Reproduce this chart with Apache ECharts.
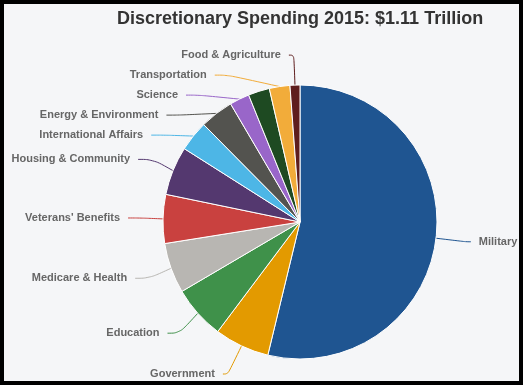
<!DOCTYPE html>
<html>
<head>
<meta charset="utf-8">
<script src="https://cdn.jsdelivr.net/npm/echarts@6/dist/echarts.min.js"></script>
<style>
  html, body { margin: 0; padding: 0; background: #000; width: 523px; height: 385px; overflow: hidden; }
  #chart { position: absolute; left: 4px; top: 4px; width: 515px; height: 377px; background: #f5f6f8; }
</style>
</head>
<body>
<div id="chart"></div>
<script>
const titleText = 'Discretionary Spending 2015: $1.11 Trillion';
const categories = ['Military', 'Government', 'Education', 'Medicare & Health', "Veterans' Benefits",
  'Housing & Community', 'International Affairs', 'Energy & Environment', 'Science',
  'Social Security, Unemployment & Labor', 'Transportation', 'Food & Agriculture'];
const values = [598, 72, 70, 66, 64, 64, 40, 44, 26, 28, 27, 13];
const colors = ['#1f5591', '#e39a00', '#3f914a', '#b8b6b2', '#c9413f', '#54386f', '#4db6e6',
  '#53534f', '#9966c9', '#1e4a22', '#f2ac3a', '#5e1d1d'];
const hiddenLabels = ['Social Security, Unemployment & Labor'];

// label styling per slice (presentation only): [line length, line length2, label line height]
const labelStyleByName = {
  'Military': [30, 5, 14],
  'Government': [32, 5, 12],
  'Education': [31, 12, 12],
  'Medicare & Health': [31, 14, 12],
  "Veterans' Benefits": [30, 13, 12],
  'Housing & Community': [30, 15, 18],
  'International Affairs': [30, 14, 18],
  'Energy & Environment': [30, 13, 18],
  'Science': [30, 13, 18],
  'Transportation': [30, 13, 18],
  'Food & Agriculture': [30, 5, 18]
};

const chart = echarts.init(document.getElementById('chart'), null, { renderer: 'canvas' });
chart.setOption({
  animation: false,
  backgroundColor: '#f5f6f8',
  title: {
    text: titleText,
    left: 108, top: 1,
    textStyle: { fontFamily: 'Liberation Sans', fontSize: 18, fontWeight: 'bold', color: '#333' }
  },
  color: colors,
  series: [{
    type: 'pie',
    center: [296, 218],
    radius: 137,
    startAngle: 90,
    clockwise: true,
    itemStyle: { borderColor: '#fff', borderWidth: 1 },
    label: {
      show: true, overflow: 'none', distanceToLabelLine: 8,
      fontFamily: 'Liberation Sans', fontSize: 11, fontWeight: 'bold', color: '#666'
    },
    labelLine: { show: true, length: 30, length2: 5, smooth: 0.4 },
    data: categories.map((c, i) => {
      const shown = hiddenLabels.indexOf(c) < 0;
      const ls = labelStyleByName[c] || [30, 5, 14];
      return {
        name: c, value: values[i],
        label: { show: shown, lineHeight: ls[2] },
        labelLine: { show: shown, length: ls[0], length2: ls[1] }
      };
    })
  }]
});
</script>
</body>
</html>
